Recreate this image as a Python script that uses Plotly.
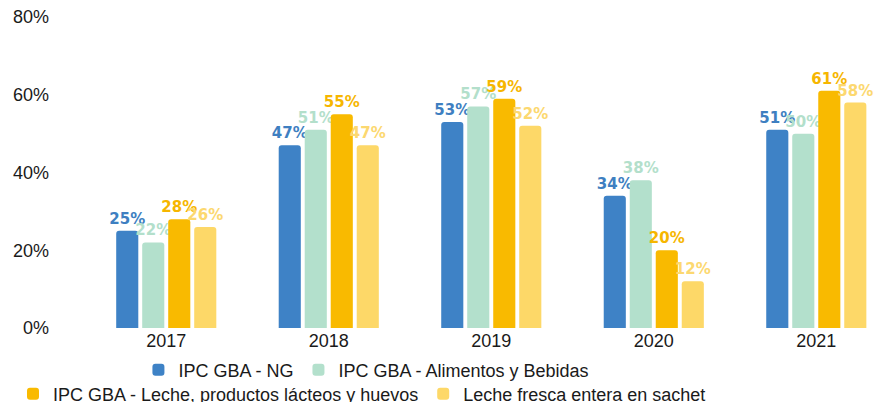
import plotly.graph_objects as go

years = ["2017", "2018", "2019", "2020", "2021"]
series_names = [
    "IPC GBA - NG",
    "IPC GBA - Alimentos y Bebidas",
    "IPC GBA - Leche, productos lácteos y huevos",
    "Leche fresca entera en sachet",
]
ipc_ng = [25, 47, 53, 34, 51]
ipc_alim = [22, 51, 57, 38, 50]
ipc_leche = [28, 55, 59, 20, 61]
leche_sachet = [26, 47, 52, 12, 58]
values = [ipc_ng, ipc_alim, ipc_leche, leche_sachet]
y_ticks = [0, 20, 40, 60, 80]
y_tick_labels = ["0%", "20%", "40%", "60%", "80%"]

bar_colors = ["#3E82C6", "#B3E0CC", "#F9BA00", "#FDD868"]
label_colors = ["#3E7FC1", "#B3DFCB", "#F6B600", "#FCD870"]
legends = ["legend", "legend", "legend2", "legend2"]

fig = go.Figure()
for name, vals, bc, lc, lg in zip(series_names, values, bar_colors, label_colors, legends):
    fig.add_trace(go.Bar(
        x=years, y=vals, name=name,
        marker=dict(color=bc, cornerradius=3, line=dict(width=0)),
        text=[f"{v}%" for v in vals], textposition="outside",
        textfont=dict(family="DejaVu Sans", size=15, color=lc, weight="bold"),
        constraintext="none", cliponaxis=False,
        legend=lg,
    ))

legend_common = dict(
    orientation="h", xref="container", yref="container",
    xanchor="center", yanchor="middle",
    font=dict(family="Liberation Sans", size=18, color="#1a1a1a"),
    bgcolor="rgba(0,0,0,0)", traceorder="normal",
)

# page body adds an 8px offset; margins compensate
fig.update_layout(
    width=885, height=402,
    margin=dict(l=77, r=0, t=9, b=82, autoexpand=False),
    plot_bgcolor="white", paper_bgcolor="white",
    barmode="group", bargap=0.36, bargroupgap=0.15,
    showlegend=True,
    legend=dict(x=0.405, y=1 - 362 / 402, **legend_common),
    legend2=dict(x=0.40, y=1 - 386 / 402, **legend_common),
    xaxis=dict(
        type="category", range=[-0.5, 4.472], showgrid=False, showline=False,
        ticks="", tickfont=dict(family="Liberation Sans", size=18, color="#1a1a1a"),
    ),
    yaxis=dict(
        range=[0, 80], tickmode="array", tickvals=y_ticks, ticktext=y_tick_labels,
        showgrid=False, showline=False, zeroline=False, ticks="",
        ticklabeloverflow="allow", ticklabelstandoff=35,
        tickfont=dict(family="Liberation Sans", size=18, color="#1a1a1a"),
    ),
    font=dict(family="Liberation Sans"),
)

fig.write_html("out.html")
